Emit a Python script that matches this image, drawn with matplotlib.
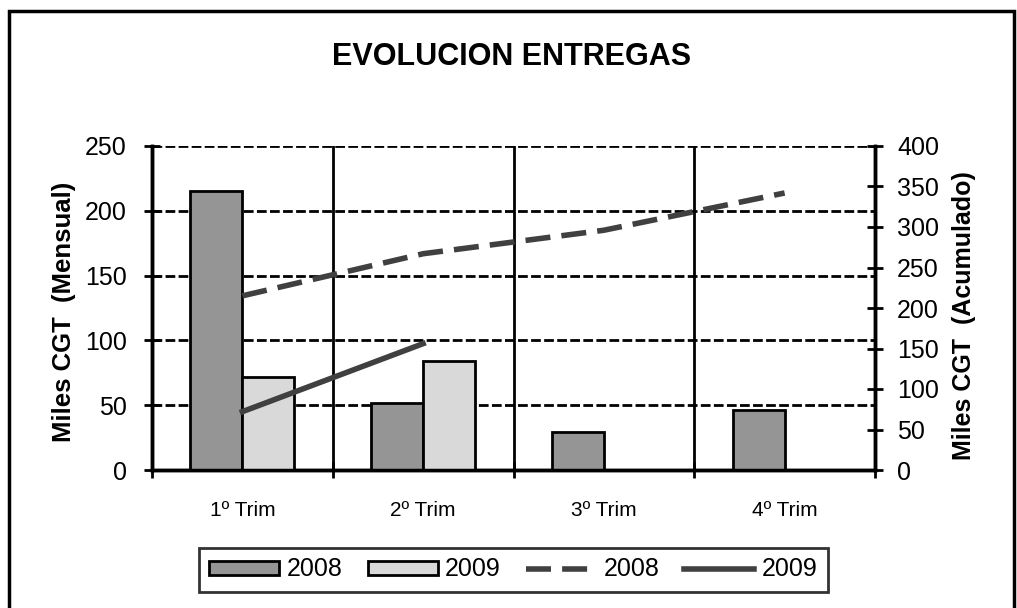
import matplotlib
matplotlib.use("Agg")
import matplotlib.pyplot as plt
from matplotlib.patches import Rectangle, Patch
from matplotlib.lines import Line2D
import numpy as np

plt.rcParams['font.family'] = ['Liberation Sans', 'DejaVu Sans']

# --- data ---
categories = ['1º Trim', '2º Trim', '3º Trim', '4º Trim']
mensual_2008 = [215, 52, 29, 46]
mensual_2009 = [72, 84, None, None]
acumulado_2008 = [215, 267, 296, 342]
acumulado_2009 = [72, 156]

W, H = 1017, 608
fig = plt.figure(figsize=(W / 100, H / 100), dpi=100)

# plot area in pixels: x 152..875, y 146..470
ax = fig.add_axes([152 / W, (H - 470) / H, (875 - 152) / W, (470 - 146) / H])

x = np.arange(len(categories))
bw = 0.287
c08 = '#959595'
c09 = '#d9d9d9'

for i, v in enumerate(mensual_2008):
    if v is not None:
        ax.bar(x[i] - bw / 2, v, bw, color=c08, edgecolor='black', linewidth=2, zorder=3)
for i, v in enumerate(mensual_2009):
    if v is not None:
        ax.bar(x[i] + bw / 2, v, bw, color=c09, edgecolor='black', linewidth=2, zorder=3)

ax.set_xlim(-0.5, len(categories) - 0.5)
ax.set_ylim(0, 250)
ax.set_yticks(range(0, 251, 50))

# gridlines
for yv in range(50, 251, 50):
    ax.axhline(yv, color='black', lw=2, linestyle=(0, (3.5, 1.2)), zorder=1)
for xv in [0.5, 1.5, 2.5]:
    ax.axvline(xv, color='black', lw=2, zorder=1)

ax.set_xticks(np.arange(-0.5, len(categories), 1.0))
ax.set_xticklabels([])
ax.set_xticks(x, minor=True)
ax.set_xticklabels(categories, minor=True, fontsize=15)
ax.tick_params(axis='x', which='minor', length=0, pad=22)
ax.tick_params(axis='x', which='major', direction='inout', length=12, width=2)
ax.tick_params(axis='y', direction='inout', length=12, width=2, labelsize=18, pad=12)

for s in ['left', 'bottom', 'right']:
    ax.spines[s].set_linewidth(2.5)
ax.spines['top'].set_visible(False)

# secondary axis
ax2 = ax.twinx()
ax2.set_ylim(0, 400)
ax2.set_yticks(range(0, 401, 50))
ax2.tick_params(axis='y', direction='inout', length=12, width=2, labelsize=18, pad=10)
for s in ['left', 'bottom', 'right']:
    ax2.spines[s].set_linewidth(2.5)
ax2.spines['top'].set_visible(False)

line_col = '#404040'
ax2.plot(x[:len(acumulado_2008)], acumulado_2008, color=line_col, lw=4,
         linestyle=(0, (4.5, 2)), zorder=4)
ax2.plot(x[:len(acumulado_2009)], acumulado_2009, color=line_col, lw=4, zorder=4)

# labels and title
fig.text(512 / W, 1 - 57 / H, 'EVOLUCION ENTREGAS', ha='center', va='center',
         fontsize=22, fontweight='bold')
fig.text(64 / W, 1 - 312 / H, 'Miles CGT  (Mensual)', ha='center', va='center',
         rotation=90, fontsize=18.5, fontweight='bold')
fig.text(964 / W, 1 - 316 / H, 'Miles CGT  (Acumulado)', ha='center', va='center',
         rotation=90, fontsize=18, fontweight='bold')

# legend
handles = [
    Patch(facecolor=c08, edgecolor='black', linewidth=2),
    Patch(facecolor=c09, edgecolor='black', linewidth=2),
    Line2D([], [], color=line_col, lw=4, linestyle=(0, (4.5, 2))),
    Line2D([], [], color=line_col, lw=4),
]
leg = fig.legend(handles, ['2008', '2009', '2008', '2009'], ncol=4,
                 loc='center', bbox_to_anchor=(513.5 / W, 1 - 569.5 / H),
                 fontsize=18, frameon=True, fancybox=False, handlelength=2.8,
                 handleheight=0.5, columnspacing=1.0, handletextpad=0.3,
                 borderpad=0.4)
leg.get_frame().set_edgecolor('black')
leg.get_frame().set_linewidth(2)

# outer chart border (bottom edge cut off)
fig.patches.append(Rectangle((9 / W, -0.05), (1014 - 9) / W, 1.05 - 11 / H,
                             transform=fig.transFigure, fill=False,
                             edgecolor='black', lw=2.5, clip_on=False))

fig.savefig('out.png', dpi=100)
